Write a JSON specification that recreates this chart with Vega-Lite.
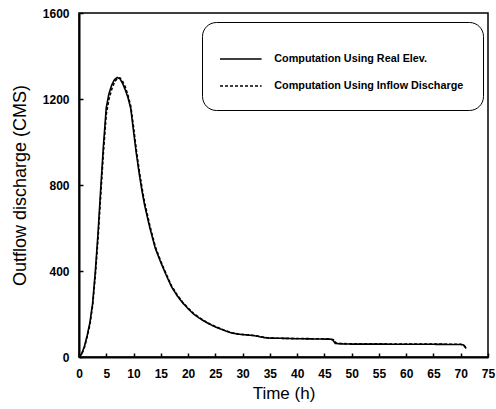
{
  "$schema": "https://vega.github.io/schema/vega-lite/v6.json",
  "width": 409,
  "height": 344,
  "autosize": "none",
  "padding": {"left": 79, "top": 13, "right": 8, "bottom": 52},
  "background": "white",
  "config": {
    "view": {"stroke": "black", "strokeWidth": 1.5},
    "font": "Liberation Sans",
    "axis": {
      "domainColor": "black",
      "domainWidth": 2,
      "tickColor": "black",
      "tickWidth": 1.5,
      "grid": false,
      "labelColor": "black",
      "labelFont": "Liberation Sans",
      "labelFontWeight": "bold",
      "labelFontSize": 12,
      "titleFont": "Liberation Sans",
      "titleFontWeight": "normal",
      "titleFontSize": 17,
      "titleColor": "black"
    }
  },
  "data": {
    "values": [
      {"t": 0, "q": 0, "s": "Computation Using Real Elev."},
      {"t": 0.5, "q": 15, "s": "Computation Using Real Elev."},
      {"t": 1, "q": 50, "s": "Computation Using Real Elev."},
      {"t": 1.5, "q": 100, "s": "Computation Using Real Elev."},
      {"t": 2, "q": 160, "s": "Computation Using Real Elev."},
      {"t": 2.5, "q": 250, "s": "Computation Using Real Elev."},
      {"t": 3, "q": 400, "s": "Computation Using Real Elev."},
      {"t": 3.5, "q": 580, "s": "Computation Using Real Elev."},
      {"t": 4, "q": 790, "s": "Computation Using Real Elev."},
      {"t": 4.5, "q": 990, "s": "Computation Using Real Elev."},
      {"t": 5, "q": 1160, "s": "Computation Using Real Elev."},
      {"t": 5.5, "q": 1225, "s": "Computation Using Real Elev."},
      {"t": 6, "q": 1265, "s": "Computation Using Real Elev."},
      {"t": 6.5, "q": 1290, "s": "Computation Using Real Elev."},
      {"t": 7, "q": 1300, "s": "Computation Using Real Elev."},
      {"t": 7.5, "q": 1295, "s": "Computation Using Real Elev."},
      {"t": 8, "q": 1272, "s": "Computation Using Real Elev."},
      {"t": 8.5, "q": 1242, "s": "Computation Using Real Elev."},
      {"t": 9, "q": 1205, "s": "Computation Using Real Elev."},
      {"t": 9.5, "q": 1155, "s": "Computation Using Real Elev."},
      {"t": 10, "q": 1050, "s": "Computation Using Real Elev."},
      {"t": 10.5, "q": 950, "s": "Computation Using Real Elev."},
      {"t": 11, "q": 860, "s": "Computation Using Real Elev."},
      {"t": 11.5, "q": 780, "s": "Computation Using Real Elev."},
      {"t": 12, "q": 710, "s": "Computation Using Real Elev."},
      {"t": 13, "q": 600, "s": "Computation Using Real Elev."},
      {"t": 14, "q": 505, "s": "Computation Using Real Elev."},
      {"t": 15, "q": 440, "s": "Computation Using Real Elev."},
      {"t": 16, "q": 380, "s": "Computation Using Real Elev."},
      {"t": 17, "q": 325, "s": "Computation Using Real Elev."},
      {"t": 18, "q": 285, "s": "Computation Using Real Elev."},
      {"t": 19, "q": 252, "s": "Computation Using Real Elev."},
      {"t": 20, "q": 225, "s": "Computation Using Real Elev."},
      {"t": 21, "q": 200, "s": "Computation Using Real Elev."},
      {"t": 22, "q": 182, "s": "Computation Using Real Elev."},
      {"t": 23, "q": 166, "s": "Computation Using Real Elev."},
      {"t": 24, "q": 152, "s": "Computation Using Real Elev."},
      {"t": 25, "q": 140, "s": "Computation Using Real Elev."},
      {"t": 26, "q": 130, "s": "Computation Using Real Elev."},
      {"t": 27, "q": 120, "s": "Computation Using Real Elev."},
      {"t": 28, "q": 112, "s": "Computation Using Real Elev."},
      {"t": 29, "q": 107, "s": "Computation Using Real Elev."},
      {"t": 30, "q": 104, "s": "Computation Using Real Elev."},
      {"t": 31, "q": 102, "s": "Computation Using Real Elev."},
      {"t": 32, "q": 100, "s": "Computation Using Real Elev."},
      {"t": 33, "q": 95, "s": "Computation Using Real Elev."},
      {"t": 34, "q": 90, "s": "Computation Using Real Elev."},
      {"t": 35, "q": 88, "s": "Computation Using Real Elev."},
      {"t": 37, "q": 87, "s": "Computation Using Real Elev."},
      {"t": 40, "q": 85, "s": "Computation Using Real Elev."},
      {"t": 43, "q": 84, "s": "Computation Using Real Elev."},
      {"t": 46, "q": 83, "s": "Computation Using Real Elev."},
      {"t": 46.5, "q": 80, "s": "Computation Using Real Elev."},
      {"t": 47, "q": 63, "s": "Computation Using Real Elev."},
      {"t": 48, "q": 61, "s": "Computation Using Real Elev."},
      {"t": 50, "q": 60, "s": "Computation Using Real Elev."},
      {"t": 55, "q": 60, "s": "Computation Using Real Elev."},
      {"t": 60, "q": 59, "s": "Computation Using Real Elev."},
      {"t": 65, "q": 59, "s": "Computation Using Real Elev."},
      {"t": 70, "q": 58, "s": "Computation Using Real Elev."},
      {"t": 70.5, "q": 56, "s": "Computation Using Real Elev."},
      {"t": 71, "q": 40, "s": "Computation Using Real Elev."},
      {"t": 0, "q": 0, "s": "Computation Using Inflow Discharge"},
      {"t": 0.5, "q": 14, "s": "Computation Using Inflow Discharge"},
      {"t": 1, "q": 45, "s": "Computation Using Inflow Discharge"},
      {"t": 1.5, "q": 95, "s": "Computation Using Inflow Discharge"},
      {"t": 2, "q": 150, "s": "Computation Using Inflow Discharge"},
      {"t": 2.5, "q": 240, "s": "Computation Using Inflow Discharge"},
      {"t": 3, "q": 380, "s": "Computation Using Inflow Discharge"},
      {"t": 3.5, "q": 555, "s": "Computation Using Inflow Discharge"},
      {"t": 4, "q": 760, "s": "Computation Using Inflow Discharge"},
      {"t": 4.5, "q": 960, "s": "Computation Using Inflow Discharge"},
      {"t": 5, "q": 1130, "s": "Computation Using Inflow Discharge"},
      {"t": 5.5, "q": 1200, "s": "Computation Using Inflow Discharge"},
      {"t": 6, "q": 1245, "s": "Computation Using Inflow Discharge"},
      {"t": 6.5, "q": 1278, "s": "Computation Using Inflow Discharge"},
      {"t": 7, "q": 1295, "s": "Computation Using Inflow Discharge"},
      {"t": 7.5, "q": 1298, "s": "Computation Using Inflow Discharge"},
      {"t": 8, "q": 1282, "s": "Computation Using Inflow Discharge"},
      {"t": 8.5, "q": 1255, "s": "Computation Using Inflow Discharge"},
      {"t": 9, "q": 1215, "s": "Computation Using Inflow Discharge"},
      {"t": 9.5, "q": 1165, "s": "Computation Using Inflow Discharge"},
      {"t": 10, "q": 1070, "s": "Computation Using Inflow Discharge"},
      {"t": 10.5, "q": 965, "s": "Computation Using Inflow Discharge"},
      {"t": 11, "q": 875, "s": "Computation Using Inflow Discharge"},
      {"t": 11.5, "q": 795, "s": "Computation Using Inflow Discharge"},
      {"t": 12, "q": 722, "s": "Computation Using Inflow Discharge"},
      {"t": 13, "q": 610, "s": "Computation Using Inflow Discharge"},
      {"t": 14, "q": 512, "s": "Computation Using Inflow Discharge"},
      {"t": 15, "q": 445, "s": "Computation Using Inflow Discharge"},
      {"t": 16, "q": 385, "s": "Computation Using Inflow Discharge"},
      {"t": 17, "q": 330, "s": "Computation Using Inflow Discharge"},
      {"t": 18, "q": 289, "s": "Computation Using Inflow Discharge"},
      {"t": 19, "q": 255, "s": "Computation Using Inflow Discharge"},
      {"t": 20, "q": 228, "s": "Computation Using Inflow Discharge"},
      {"t": 21, "q": 203, "s": "Computation Using Inflow Discharge"},
      {"t": 22, "q": 184, "s": "Computation Using Inflow Discharge"},
      {"t": 23, "q": 168, "s": "Computation Using Inflow Discharge"},
      {"t": 24, "q": 154, "s": "Computation Using Inflow Discharge"},
      {"t": 25, "q": 142, "s": "Computation Using Inflow Discharge"},
      {"t": 26, "q": 131, "s": "Computation Using Inflow Discharge"},
      {"t": 27, "q": 121, "s": "Computation Using Inflow Discharge"},
      {"t": 28, "q": 113, "s": "Computation Using Inflow Discharge"},
      {"t": 29, "q": 108, "s": "Computation Using Inflow Discharge"},
      {"t": 30, "q": 105, "s": "Computation Using Inflow Discharge"},
      {"t": 31, "q": 103, "s": "Computation Using Inflow Discharge"},
      {"t": 32, "q": 100, "s": "Computation Using Inflow Discharge"},
      {"t": 33, "q": 96, "s": "Computation Using Inflow Discharge"},
      {"t": 34, "q": 91, "s": "Computation Using Inflow Discharge"},
      {"t": 35, "q": 88, "s": "Computation Using Inflow Discharge"},
      {"t": 37, "q": 87, "s": "Computation Using Inflow Discharge"},
      {"t": 40, "q": 86, "s": "Computation Using Inflow Discharge"},
      {"t": 43, "q": 85, "s": "Computation Using Inflow Discharge"},
      {"t": 46, "q": 84, "s": "Computation Using Inflow Discharge"},
      {"t": 46.7, "q": 80, "s": "Computation Using Inflow Discharge"},
      {"t": 47.2, "q": 64, "s": "Computation Using Inflow Discharge"},
      {"t": 48, "q": 63, "s": "Computation Using Inflow Discharge"},
      {"t": 50, "q": 61, "s": "Computation Using Inflow Discharge"},
      {"t": 55, "q": 61, "s": "Computation Using Inflow Discharge"},
      {"t": 60, "q": 60, "s": "Computation Using Inflow Discharge"},
      {"t": 65, "q": 60, "s": "Computation Using Inflow Discharge"},
      {"t": 70, "q": 59, "s": "Computation Using Inflow Discharge"},
      {"t": 70.5, "q": 57, "s": "Computation Using Inflow Discharge"},
      {"t": 71, "q": 41, "s": "Computation Using Inflow Discharge"}
    ]
  },
  "mark": {"type": "line", "color": "black", "strokeWidth": 1.6},
  "encoding": {
    "x": {
      "field": "t",
      "type": "quantitative",
      "title": "Time  (h)",
      "scale": {"domain": [0, 75], "nice": false, "zero": false},
      "axis": {"values": [0,5,10,15,20,25,30,35,40,45,50,55,60,65,70,75], "tickSize": -4, "labelPadding": 15, "titlePadding": 6, "labelFlush": false}
    },
    "y": {
      "field": "q",
      "type": "quantitative",
      "title": "Outflow discharge (CMS)",
      "scale": {"domain": [0, 1600], "nice": false},
      "axis": {"values": [0, 400, 800, 1200, 1600], "format": "d", "tickSize": -4, "labelPadding": 14, "titlePadding": 13, "titleFontSize": 18, "labelFlush": false}
    },
    "strokeDash": {
      "field": "s",
      "type": "nominal",
      "sort": ["Computation Using Real Elev.", "Computation Using Inflow Discharge"],
      "scale": {"domain": ["Computation Using Real Elev.", "Computation Using Inflow Discharge"], "range": [[1, 0], [3, 2]]},
      "legend": {
        "title": " ",
        "titleFontSize": 3,
        "titlePadding": 1,
        "orient": "none",
        "legendX": 123,
        "legendY": 9,
        "strokeColor": "black",
        "cornerRadius": 14,
        "padding": 19,
        "fillColor": "white",
        "symbolType": "M-1.6,0H1.6",
        "symbolStrokeColor": "black",
        "symbolStrokeWidth": 1.5,
        "symbolSize": 676,
        "symbolOffset": 5.8,
        "rowPadding": 8,
        "labelFont": "Liberation Sans",
        "labelFontWeight": "bold",
        "labelFontSize": 10.8,
        "labelColor": "black",
        "labelOffset": 19.5,
        "labelLimit": 300
      }
    }
  }
}
